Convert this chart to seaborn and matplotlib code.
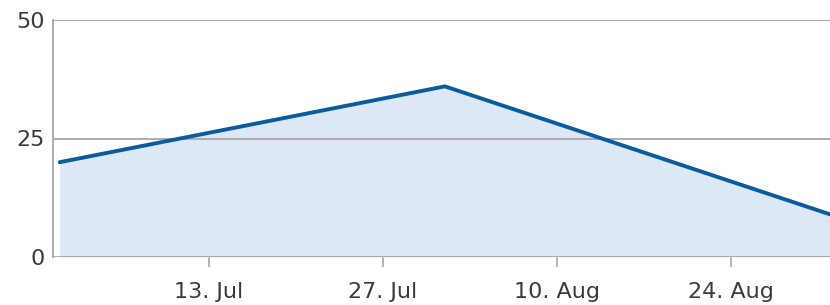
import matplotlib
matplotlib.use('Agg')

import pandas as pd
import seaborn as sns
from matplotlib import pyplot as plt

sns.set_style('white')
plt.rcParams['font.family'] = ['DejaVu Sans']

dates = ['2023-07-01', '2023-08-01', '2023-09-01']
values = [20, 36, 9]
tick_dates = ['2023-07-13', '2023-07-27', '2023-08-10', '2023-08-24']
tick_labels = ['13. Jul', '27. Jul', '10. Aug', '24. Aug']
y_ticks = [0, 25, 50]

line_color = '#0a5c9c'
fill_color = '#dce8f5'
grid_color = '#a6a6a6'
text_color = '#3a3a3a'

df = pd.DataFrame({'date': pd.to_datetime(dates), 'value': values})

fig = plt.figure(figsize=(8.3, 3.05), dpi=100)
ax = fig.add_axes([53 / 830, 1 - 257 / 305, 1 - 53 / 830, (257 - 20) / 305])

ax.fill_between(df['date'], df['value'], 0, color=fill_color, linewidth=0, zorder=1)
sns.lineplot(data=df, x='date', y='value', ax=ax, color=line_color, linewidth=2.8, zorder=3)

start = pd.Timestamp(dates[0]) - pd.Timedelta(hours=13)
ax.set_xlim(start, pd.Timestamp(dates[-1]))
ax.set_ylim(0, 50)

ax.set_yticks(y_ticks)
ax.set_yticklabels([str(v) for v in y_ticks])
ax.set_xticks(pd.to_datetime(tick_dates))
ax.set_xticklabels(tick_labels)

for v in y_ticks:
    ax.axhline(v, color=grid_color, linewidth=1.3, zorder=2)

for side in ['top', 'right', 'bottom']:
    ax.spines[side].set_visible(False)
ax.spines['left'].set_color(grid_color)
ax.spines['left'].set_linewidth(1.3)

ax.tick_params(axis='y', left=False, length=0, pad=6, labelsize=16, labelcolor=text_color)
ax.tick_params(axis='x', bottom=True, length=7, width=1.2, color=grid_color, pad=11,
               labelsize=16, labelcolor=text_color)
ax.set_xlabel('')
ax.set_ylabel('')

fig.savefig('out.png', dpi=100)
